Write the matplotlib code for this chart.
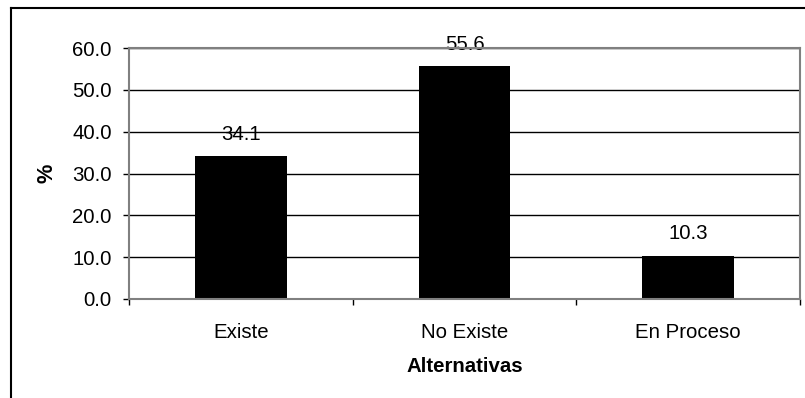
import matplotlib
matplotlib.use("Agg")
import matplotlib.pyplot as plt
from matplotlib.lines import Line2D
from matplotlib.ticker import FormatStrFormatter, MultipleLocator, FixedLocator

# datos
alternativas = ["Existe", "No Existe", "En Proceso"]
porcentajes = [34.1, 55.6, 10.3]

plt.rcParams['font.family'] = ['Liberation Sans', 'DejaVu Sans']
fs = 14.7

fig = plt.figure(figsize=(8.05, 3.98), dpi=100)
ax = fig.add_axes([129 / 805, 1 - 299 / 398, 671 / 805, 251 / 398])

x = list(range(len(alternativas)))
ax.bar(x, porcentajes, width=0.41, color="black", zorder=3)

# etiquetas de valor sobre cada barra (la rejilla pasa por encima)
for xi, v in zip(x, porcentajes):
    ax.annotate(f"{v:.1f}", xy=(xi, v), xytext=(0, 9), textcoords="offset points",
                ha="center", va="bottom", fontsize=fs, zorder=1)

ax.set_xlim(-0.5, 2.5)
ax.set_ylim(0, 60)
ax.yaxis.set_major_locator(MultipleLocator(10))
ax.yaxis.set_major_formatter(FormatStrFormatter("%.1f"))
ax.set_axisbelow(False)
ax.yaxis.grid(True, color="black", linewidth=1.0, zorder=2)

ax.set_xticks(x)
ax.set_xticklabels(alternativas, fontsize=fs)
ax.xaxis.set_minor_locator(FixedLocator([-0.5, 0.5, 1.5, 2.5]))
ax.tick_params(axis="x", which="major", length=0, pad=17)
ax.tick_params(axis="x", which="minor", length=4.5, width=1, color="black")
ax.tick_params(axis="y", length=4.5, width=1, pad=8, labelsize=fs, color="black")

for s in ax.spines.values():
    s.set_color("#808080")
    s.set_linewidth(1.5)
    s.set_zorder(4)

ax.set_xlabel("Alternativas", fontsize=fs, fontweight="bold")
ax.xaxis.set_label_coords(0.5, (299 - 366) / 251)
ax.xaxis.label.set_va("center")
ax.set_ylabel("%", fontsize=fs + 1, fontweight="bold")
ax.yaxis.set_label_coords((47 - 129) / 671, 0.5)
ax.yaxis.label.set_va("center")

# marco exterior del grafico
fig.add_artist(Line2D([11 / 805, 11 / 805], [0, 1 - 8 / 398], color="black", linewidth=1.5,
                      transform=fig.transFigure))
fig.add_artist(Line2D([11 / 805, 1], [1 - 8 / 398, 1 - 8 / 398], color="black", linewidth=1.5,
                      transform=fig.transFigure))

fig.savefig("out.png", dpi=100)
